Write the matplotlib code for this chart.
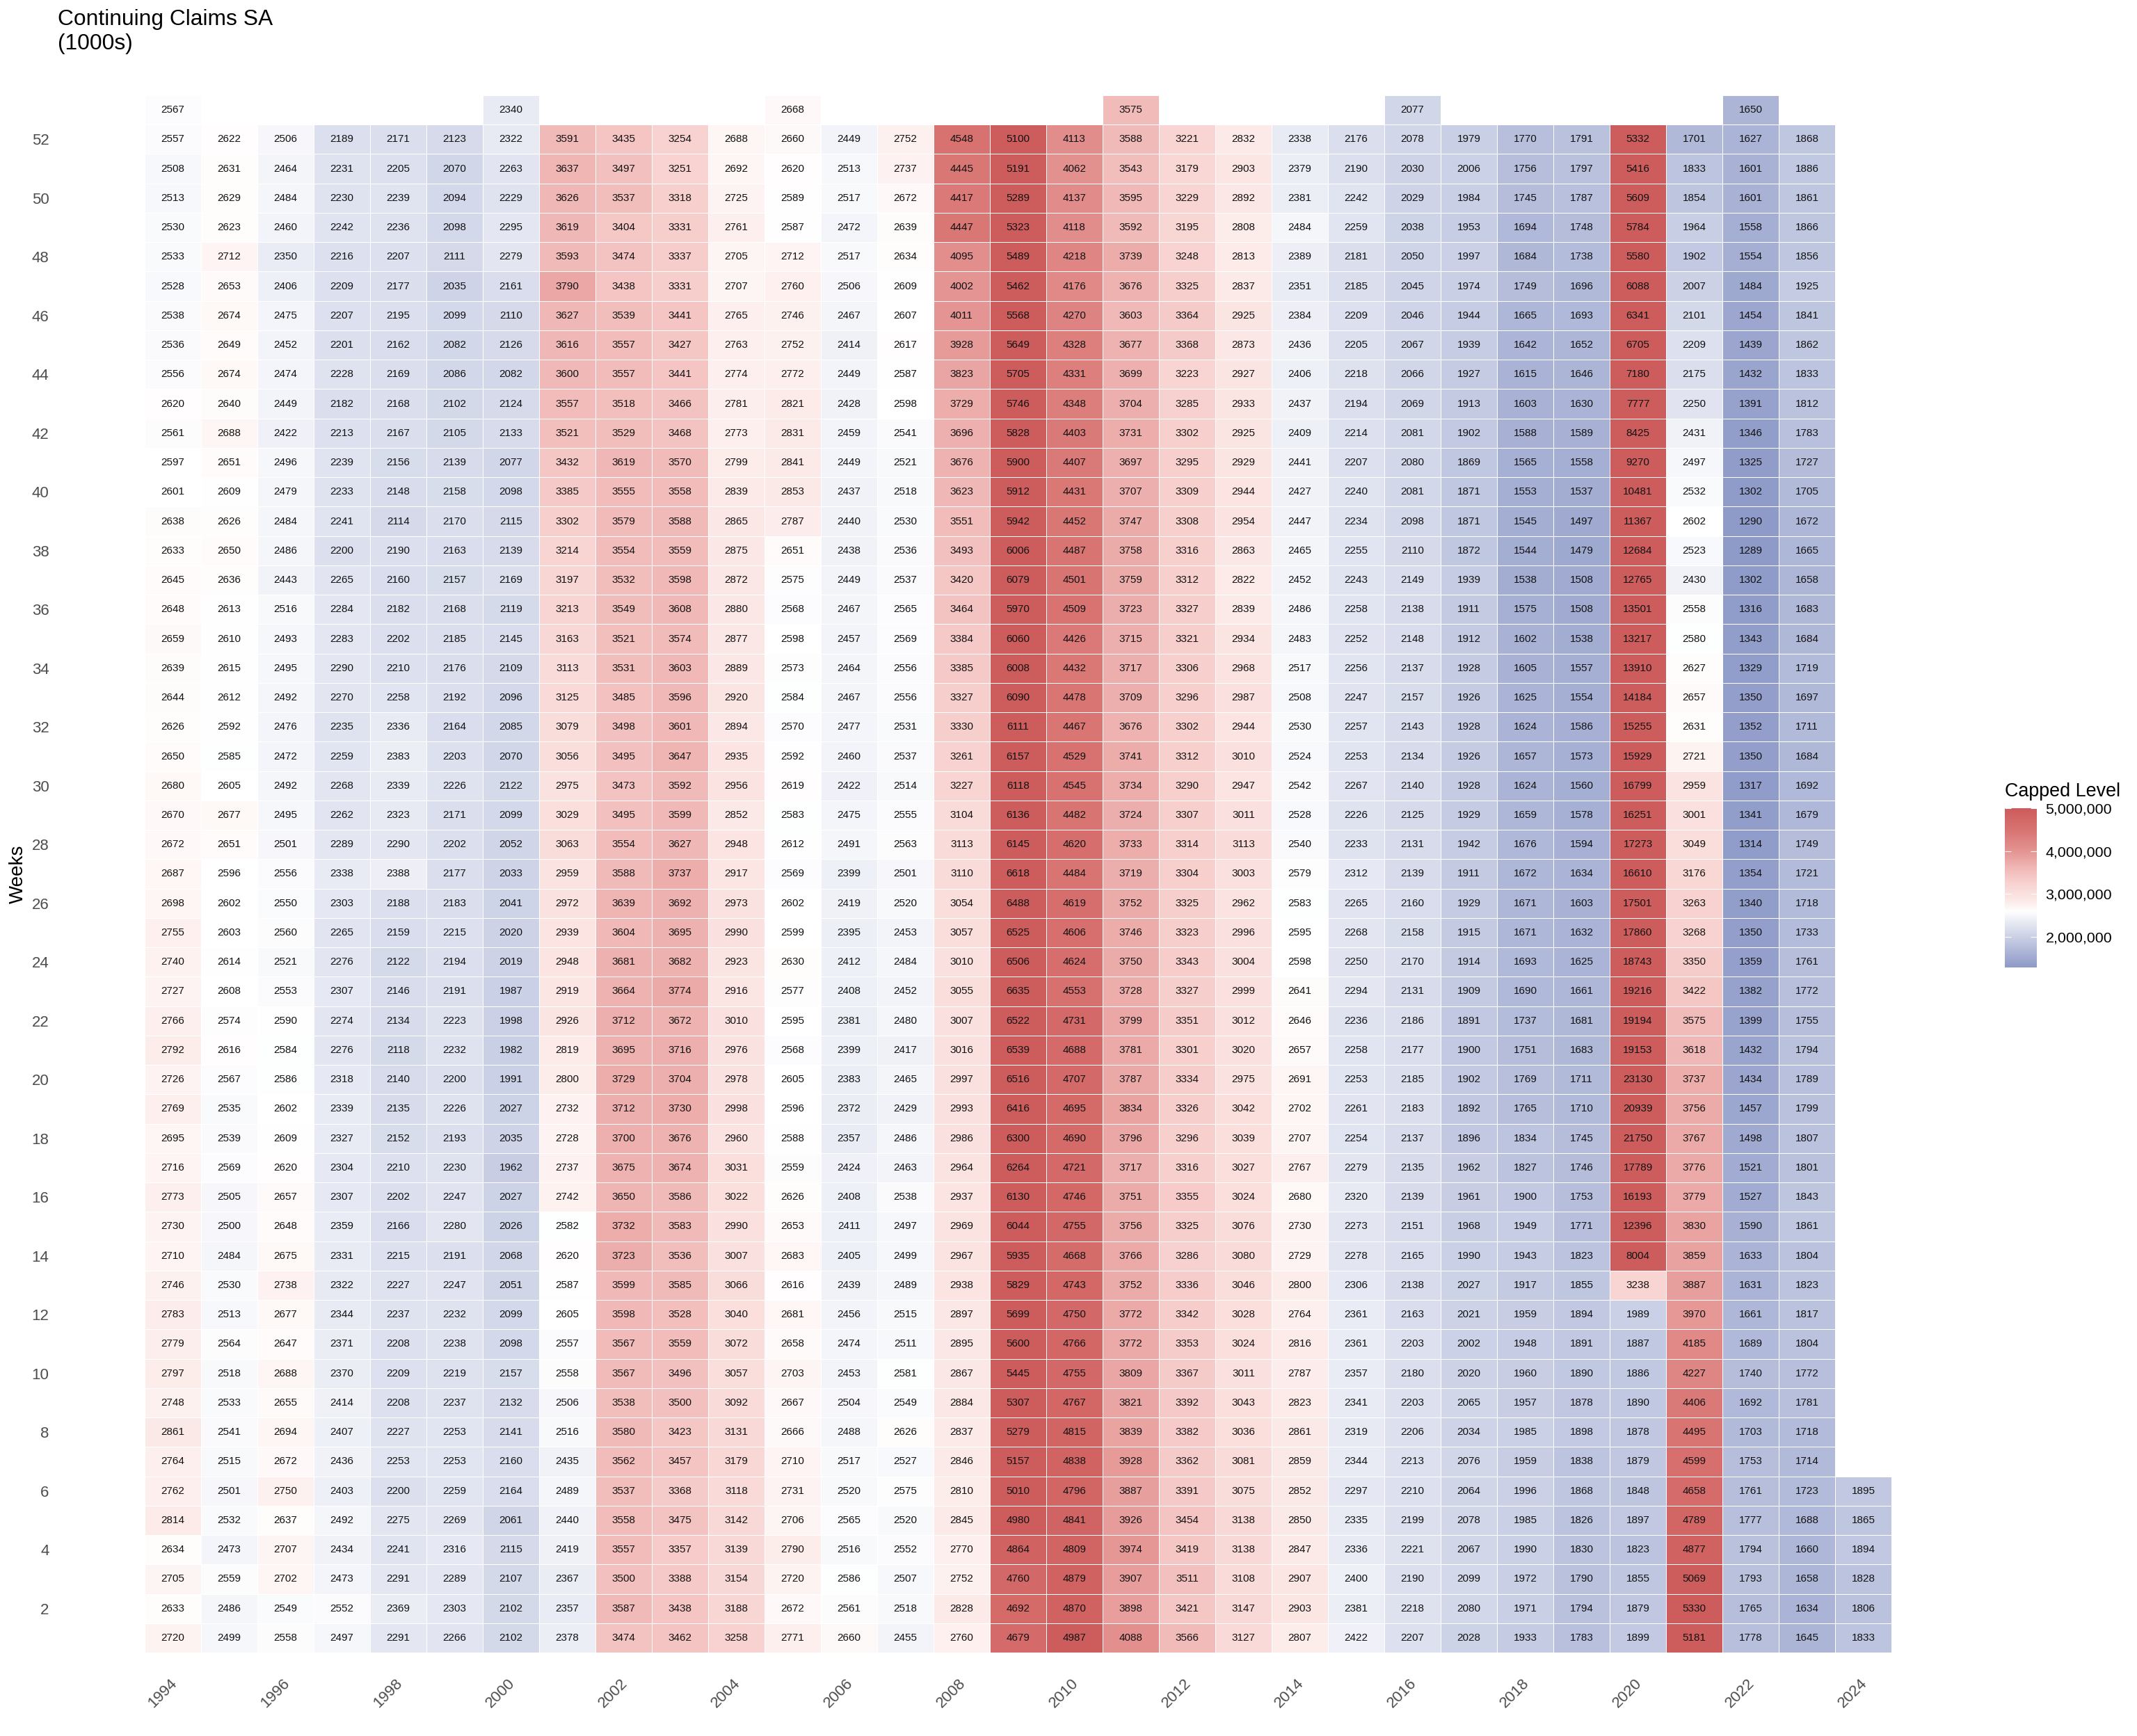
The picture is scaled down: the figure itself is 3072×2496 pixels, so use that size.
import numpy as np
import matplotlib
matplotlib.use('Agg')
import matplotlib.pyplot as plt
from matplotlib.colors import LinearSegmentedColormap, Normalize
from matplotlib.transforms import ScaledTranslation

plt.rcParams['font.family'] = ['Liberation Sans', 'DejaVu Sans']

# each year runs from week 53 at the top down to week 1
y1994 = [2567, 2557, 2508, 2513, 2530, 2533, 2528, 2538, 2536, 2556, 2620, 2561, 2597, 2601, 2638, 2633, 2645, 2648, 2659, 2639, 2644, 2626, 2650, 2680, 2670, 2672, 2687, 2698, 2755, 2740, 2727, 2766, 2792, 2726, 2769, 2695, 2716, 2773, 2730, 2710, 2746, 2783, 2779, 2797, 2748, 2861, 2764, 2762, 2814, 2634, 2705, 2633, 2720]
y1995 = [None, 2622, 2631, 2629, 2623, 2712, 2653, 2674, 2649, 2674, 2640, 2688, 2651, 2609, 2626, 2650, 2636, 2613, 2610, 2615, 2612, 2592, 2585, 2605, 2677, 2651, 2596, 2602, 2603, 2614, 2608, 2574, 2616, 2567, 2535, 2539, 2569, 2505, 2500, 2484, 2530, 2513, 2564, 2518, 2533, 2541, 2515, 2501, 2532, 2473, 2559, 2486, 2499]
y1996 = [None, 2506, 2464, 2484, 2460, 2350, 2406, 2475, 2452, 2474, 2449, 2422, 2496, 2479, 2484, 2486, 2443, 2516, 2493, 2495, 2492, 2476, 2472, 2492, 2495, 2501, 2556, 2550, 2560, 2521, 2553, 2590, 2584, 2586, 2602, 2609, 2620, 2657, 2648, 2675, 2738, 2677, 2647, 2688, 2655, 2694, 2672, 2750, 2637, 2707, 2702, 2549, 2558]
y1997 = [None, 2189, 2231, 2230, 2242, 2216, 2209, 2207, 2201, 2228, 2182, 2213, 2239, 2233, 2241, 2200, 2265, 2284, 2283, 2290, 2270, 2235, 2259, 2268, 2262, 2289, 2338, 2303, 2265, 2276, 2307, 2274, 2276, 2318, 2339, 2327, 2304, 2307, 2359, 2331, 2322, 2344, 2371, 2370, 2414, 2407, 2436, 2403, 2492, 2434, 2473, 2552, 2497]
y1998 = [None, 2171, 2205, 2239, 2236, 2207, 2177, 2195, 2162, 2169, 2168, 2167, 2156, 2148, 2114, 2190, 2160, 2182, 2202, 2210, 2258, 2336, 2383, 2339, 2323, 2290, 2388, 2188, 2159, 2122, 2146, 2134, 2118, 2140, 2135, 2152, 2210, 2202, 2166, 2215, 2227, 2237, 2208, 2209, 2208, 2227, 2253, 2200, 2275, 2241, 2291, 2369, 2291]
y1999 = [None, 2123, 2070, 2094, 2098, 2111, 2035, 2099, 2082, 2086, 2102, 2105, 2139, 2158, 2170, 2163, 2157, 2168, 2185, 2176, 2192, 2164, 2203, 2226, 2171, 2202, 2177, 2183, 2215, 2194, 2191, 2223, 2232, 2200, 2226, 2193, 2230, 2247, 2280, 2191, 2247, 2232, 2238, 2219, 2237, 2253, 2253, 2259, 2269, 2316, 2289, 2303, 2266]
y2000 = [2340, 2322, 2263, 2229, 2295, 2279, 2161, 2110, 2126, 2082, 2124, 2133, 2077, 2098, 2115, 2139, 2169, 2119, 2145, 2109, 2096, 2085, 2070, 2122, 2099, 2052, 2033, 2041, 2020, 2019, 1987, 1998, 1982, 1991, 2027, 2035, 1962, 2027, 2026, 2068, 2051, 2099, 2098, 2157, 2132, 2141, 2160, 2164, 2061, 2115, 2107, 2102, 2102]
y2001 = [None, 3591, 3637, 3626, 3619, 3593, 3790, 3627, 3616, 3600, 3557, 3521, 3432, 3385, 3302, 3214, 3197, 3213, 3163, 3113, 3125, 3079, 3056, 2975, 3029, 3063, 2959, 2972, 2939, 2948, 2919, 2926, 2819, 2800, 2732, 2728, 2737, 2742, 2582, 2620, 2587, 2605, 2557, 2558, 2506, 2516, 2435, 2489, 2440, 2419, 2367, 2357, 2378]
y2002 = [None, 3435, 3497, 3537, 3404, 3474, 3438, 3539, 3557, 3557, 3518, 3529, 3619, 3555, 3579, 3554, 3532, 3549, 3521, 3531, 3485, 3498, 3495, 3473, 3495, 3554, 3588, 3639, 3604, 3681, 3664, 3712, 3695, 3729, 3712, 3700, 3675, 3650, 3732, 3723, 3599, 3598, 3567, 3567, 3538, 3580, 3562, 3537, 3558, 3557, 3500, 3587, 3474]
y2003 = [None, 3254, 3251, 3318, 3331, 3337, 3331, 3441, 3427, 3441, 3466, 3468, 3570, 3558, 3588, 3559, 3598, 3608, 3574, 3603, 3596, 3601, 3647, 3592, 3599, 3627, 3737, 3692, 3695, 3682, 3774, 3672, 3716, 3704, 3730, 3676, 3674, 3586, 3583, 3536, 3585, 3528, 3559, 3496, 3500, 3423, 3457, 3368, 3475, 3357, 3388, 3438, 3462]
y2004 = [None, 2688, 2692, 2725, 2761, 2705, 2707, 2765, 2763, 2774, 2781, 2773, 2799, 2839, 2865, 2875, 2872, 2880, 2877, 2889, 2920, 2894, 2935, 2956, 2852, 2948, 2917, 2973, 2990, 2923, 2916, 3010, 2976, 2978, 2998, 2960, 3031, 3022, 2990, 3007, 3066, 3040, 3072, 3057, 3092, 3131, 3179, 3118, 3142, 3139, 3154, 3188, 3258]
y2005 = [2668, 2660, 2620, 2589, 2587, 2712, 2760, 2746, 2752, 2772, 2821, 2831, 2841, 2853, 2787, 2651, 2575, 2568, 2598, 2573, 2584, 2570, 2592, 2619, 2583, 2612, 2569, 2602, 2599, 2630, 2577, 2595, 2568, 2605, 2596, 2588, 2559, 2626, 2653, 2683, 2616, 2681, 2658, 2703, 2667, 2666, 2710, 2731, 2706, 2790, 2720, 2672, 2771]
y2006 = [None, 2449, 2513, 2517, 2472, 2517, 2506, 2467, 2414, 2449, 2428, 2459, 2449, 2437, 2440, 2438, 2449, 2467, 2457, 2464, 2467, 2477, 2460, 2422, 2475, 2491, 2399, 2419, 2395, 2412, 2408, 2381, 2399, 2383, 2372, 2357, 2424, 2408, 2411, 2405, 2439, 2456, 2474, 2453, 2504, 2488, 2517, 2520, 2565, 2516, 2586, 2561, 2660]
y2007 = [None, 2752, 2737, 2672, 2639, 2634, 2609, 2607, 2617, 2587, 2598, 2541, 2521, 2518, 2530, 2536, 2537, 2565, 2569, 2556, 2556, 2531, 2537, 2514, 2555, 2563, 2501, 2520, 2453, 2484, 2452, 2480, 2417, 2465, 2429, 2486, 2463, 2538, 2497, 2499, 2489, 2515, 2511, 2581, 2549, 2626, 2527, 2575, 2520, 2552, 2507, 2518, 2455]
y2008 = [None, 4548, 4445, 4417, 4447, 4095, 4002, 4011, 3928, 3823, 3729, 3696, 3676, 3623, 3551, 3493, 3420, 3464, 3384, 3385, 3327, 3330, 3261, 3227, 3104, 3113, 3110, 3054, 3057, 3010, 3055, 3007, 3016, 2997, 2993, 2986, 2964, 2937, 2969, 2967, 2938, 2897, 2895, 2867, 2884, 2837, 2846, 2810, 2845, 2770, 2752, 2828, 2760]
y2009 = [None, 5100, 5191, 5289, 5323, 5489, 5462, 5568, 5649, 5705, 5746, 5828, 5900, 5912, 5942, 6006, 6079, 5970, 6060, 6008, 6090, 6111, 6157, 6118, 6136, 6145, 6618, 6488, 6525, 6506, 6635, 6522, 6539, 6516, 6416, 6300, 6264, 6130, 6044, 5935, 5829, 5699, 5600, 5445, 5307, 5279, 5157, 5010, 4980, 4864, 4760, 4692, 4679]
y2010 = [None, 4113, 4062, 4137, 4118, 4218, 4176, 4270, 4328, 4331, 4348, 4403, 4407, 4431, 4452, 4487, 4501, 4509, 4426, 4432, 4478, 4467, 4529, 4545, 4482, 4620, 4484, 4619, 4606, 4624, 4553, 4731, 4688, 4707, 4695, 4690, 4721, 4746, 4755, 4668, 4743, 4750, 4766, 4755, 4767, 4815, 4838, 4796, 4841, 4809, 4879, 4870, 4987]
y2011 = [3575, 3588, 3543, 3595, 3592, 3739, 3676, 3603, 3677, 3699, 3704, 3731, 3697, 3707, 3747, 3758, 3759, 3723, 3715, 3717, 3709, 3676, 3741, 3734, 3724, 3733, 3719, 3752, 3746, 3750, 3728, 3799, 3781, 3787, 3834, 3796, 3717, 3751, 3756, 3766, 3752, 3772, 3772, 3809, 3821, 3839, 3928, 3887, 3926, 3974, 3907, 3898, 4088]
y2012 = [None, 3221, 3179, 3229, 3195, 3248, 3325, 3364, 3368, 3223, 3285, 3302, 3295, 3309, 3308, 3316, 3312, 3327, 3321, 3306, 3296, 3302, 3312, 3290, 3307, 3314, 3304, 3325, 3323, 3343, 3327, 3351, 3301, 3334, 3326, 3296, 3316, 3355, 3325, 3286, 3336, 3342, 3353, 3367, 3392, 3382, 3362, 3391, 3454, 3419, 3511, 3421, 3566]
y2013 = [None, 2832, 2903, 2892, 2808, 2813, 2837, 2925, 2873, 2927, 2933, 2925, 2929, 2944, 2954, 2863, 2822, 2839, 2934, 2968, 2987, 2944, 3010, 2947, 3011, 3113, 3003, 2962, 2996, 3004, 2999, 3012, 3020, 2975, 3042, 3039, 3027, 3024, 3076, 3080, 3046, 3028, 3024, 3011, 3043, 3036, 3081, 3075, 3138, 3138, 3108, 3147, 3127]
y2014 = [None, 2338, 2379, 2381, 2484, 2389, 2351, 2384, 2436, 2406, 2437, 2409, 2441, 2427, 2447, 2465, 2452, 2486, 2483, 2517, 2508, 2530, 2524, 2542, 2528, 2540, 2579, 2583, 2595, 2598, 2641, 2646, 2657, 2691, 2702, 2707, 2767, 2680, 2730, 2729, 2800, 2764, 2816, 2787, 2823, 2861, 2859, 2852, 2850, 2847, 2907, 2903, 2807]
y2015 = [None, 2176, 2190, 2242, 2259, 2181, 2185, 2209, 2205, 2218, 2194, 2214, 2207, 2240, 2234, 2255, 2243, 2258, 2252, 2256, 2247, 2257, 2253, 2267, 2226, 2233, 2312, 2265, 2268, 2250, 2294, 2236, 2258, 2253, 2261, 2254, 2279, 2320, 2273, 2278, 2306, 2361, 2361, 2357, 2341, 2319, 2344, 2297, 2335, 2336, 2400, 2381, 2422]
y2016 = [2077, 2078, 2030, 2029, 2038, 2050, 2045, 2046, 2067, 2066, 2069, 2081, 2080, 2081, 2098, 2110, 2149, 2138, 2148, 2137, 2157, 2143, 2134, 2140, 2125, 2131, 2139, 2160, 2158, 2170, 2131, 2186, 2177, 2185, 2183, 2137, 2135, 2139, 2151, 2165, 2138, 2163, 2203, 2180, 2203, 2206, 2213, 2210, 2199, 2221, 2190, 2218, 2207]
y2017 = [None, 1979, 2006, 1984, 1953, 1997, 1974, 1944, 1939, 1927, 1913, 1902, 1869, 1871, 1871, 1872, 1939, 1911, 1912, 1928, 1926, 1928, 1926, 1928, 1929, 1942, 1911, 1929, 1915, 1914, 1909, 1891, 1900, 1902, 1892, 1896, 1962, 1961, 1968, 1990, 2027, 2021, 2002, 2020, 2065, 2034, 2076, 2064, 2078, 2067, 2099, 2080, 2028]
y2018 = [None, 1770, 1756, 1745, 1694, 1684, 1749, 1665, 1642, 1615, 1603, 1588, 1565, 1553, 1545, 1544, 1538, 1575, 1602, 1605, 1625, 1624, 1657, 1624, 1659, 1676, 1672, 1671, 1671, 1693, 1690, 1737, 1751, 1769, 1765, 1834, 1827, 1900, 1949, 1943, 1917, 1959, 1948, 1960, 1957, 1985, 1959, 1996, 1985, 1990, 1972, 1971, 1933]
y2019 = [None, 1791, 1797, 1787, 1748, 1738, 1696, 1693, 1652, 1646, 1630, 1589, 1558, 1537, 1497, 1479, 1508, 1508, 1538, 1557, 1554, 1586, 1573, 1560, 1578, 1594, 1634, 1603, 1632, 1625, 1661, 1681, 1683, 1711, 1710, 1745, 1746, 1753, 1771, 1823, 1855, 1894, 1891, 1890, 1878, 1898, 1838, 1868, 1826, 1830, 1790, 1794, 1783]
y2020 = [None, 5332, 5416, 5609, 5784, 5580, 6088, 6341, 6705, 7180, 7777, 8425, 9270, 10481, 11367, 12684, 12765, 13501, 13217, 13910, 14184, 15255, 15929, 16799, 16251, 17273, 16610, 17501, 17860, 18743, 19216, 19194, 19153, 23130, 20939, 21750, 17789, 16193, 12396, 8004, 3238, 1989, 1887, 1886, 1890, 1878, 1879, 1848, 1897, 1823, 1855, 1879, 1899]
y2021 = [None, 1701, 1833, 1854, 1964, 1902, 2007, 2101, 2209, 2175, 2250, 2431, 2497, 2532, 2602, 2523, 2430, 2558, 2580, 2627, 2657, 2631, 2721, 2959, 3001, 3049, 3176, 3263, 3268, 3350, 3422, 3575, 3618, 3737, 3756, 3767, 3776, 3779, 3830, 3859, 3887, 3970, 4185, 4227, 4406, 4495, 4599, 4658, 4789, 4877, 5069, 5330, 5181]
y2022 = [1650, 1627, 1601, 1601, 1558, 1554, 1484, 1454, 1439, 1432, 1391, 1346, 1325, 1302, 1290, 1289, 1302, 1316, 1343, 1329, 1350, 1352, 1350, 1317, 1341, 1314, 1354, 1340, 1350, 1359, 1382, 1399, 1432, 1434, 1457, 1498, 1521, 1527, 1590, 1633, 1631, 1661, 1689, 1740, 1692, 1703, 1753, 1761, 1777, 1794, 1793, 1765, 1778]
y2023 = [None, 1868, 1886, 1861, 1866, 1856, 1925, 1841, 1862, 1833, 1812, 1783, 1727, 1705, 1672, 1665, 1658, 1683, 1684, 1719, 1697, 1711, 1684, 1692, 1679, 1749, 1721, 1718, 1733, 1761, 1772, 1755, 1794, 1789, 1799, 1807, 1801, 1843, 1861, 1804, 1823, 1817, 1804, 1772, 1781, 1718, 1714, 1723, 1688, 1660, 1658, 1634, 1645]
y2024 = [None] * 47 + [1895, 1865, 1894, 1828, 1806, 1833]

columns = [y1994, y1995, y1996, y1997, y1998, y1999, y2000, y2001, y2002, y2003, y2004,
           y2005, y2006, y2007, y2008, y2009, y2010, y2011, y2012, y2013, y2014, y2015,
           y2016, y2017, y2018, y2019, y2020, y2021, y2022, y2023, y2024]
years = np.arange(1994, 2025)
weeks = np.arange(53, 0, -1)
year_ticks = np.arange(1994, 2025, 2)
week_ticks = np.arange(2, 53, 2)
legend_ticks = [2000000, 3000000, 4000000, 5000000]

CAP = 5000000
FLOOR = 1289000
TEXT_GREY = '#4D4D4D'
W, H = 3072, 2496

stops = [(1289000, '#8E9AC8'), (2600000, '#FFFFFF'), (2800000, '#FCECEA'), (3300000, '#F7D0CE'),
         (3600000, '#F0B9B7'), (4000000, '#E49593'), (4500000, '#D87472'), (5000000, '#CD5C5C')]


def px_box(left, top, right, bottom):
    return [left / W, 1 - bottom / H, (right - left) / W, (bottom - top) / H]


values = np.array(columns, dtype=float).T
capped = np.ma.masked_invalid(np.minimum(values * 1000, CAP))

cmap = LinearSegmentedColormap.from_list(
    'claims', [((v - FLOOR) / (CAP - FLOOR), c) for v, c in stops], N=512)
norm = Normalize(vmin=FLOOR, vmax=CAP)

fig = plt.figure(figsize=(W / 200, H / 200), dpi=200, facecolor='white')
ax = fig.add_axes(px_box(208, 137, 2719, 2376))

x_edges = np.arange(1993.5, 2025)
y_edges = np.arange(53.5, 0, -1)
ax.pcolormesh(x_edges, y_edges, capped, cmap=cmap, norm=norm,
              edgecolors='white', linewidth=0.22)

for i, week in enumerate(weeks):
    for j, year in enumerate(years):
        if not np.isnan(values[i, j]):
            ax.text(year, week, f'{values[i, j]:.0f}', ha='center', va='center',
                    fontsize=5.5, color='#111111')

ax.set_xlim(1993.5, 2024.5)
ax.set_ylim(0.5, 53.5)
ax.set_yticks(week_ticks)
ax.set_xticks(year_ticks)
ax.set_xticklabels(year_ticks, rotation=45, ha='right', va='top', rotation_mode='anchor')
ax.tick_params(axis='y', length=0, pad=49.5, labelsize=8, labelcolor=TEXT_GREY)
ax.tick_params(axis='x', length=0, pad=12, labelsize=8, labelcolor=TEXT_GREY)
ax.spines[['top', 'right', 'left', 'bottom']].set_visible(False)

# year labels sit a little left of their tiles
shift = ScaledTranslation(-5 / 200, 0, fig.dpi_scale_trans)
for label in ax.get_xticklabels():
    label.set_transform(label.get_transform() + shift)

fig.text(83 / W, 1 - 13 / H, 'Continuing Claims SA\n(1000s)', fontsize=11.45, ha='left', va='top',
         color='black')
fig.text(26 / W, 1 - 1257 / H, 'Weeks', fontsize=10, rotation=90, ha='center', va='center',
         color='black')

# legend, drawn by hand so that the ticks sit evenly spaced
cax = fig.add_axes(px_box(2882, 1162, 2928, 1391))
ramp = np.linspace(FLOOR, CAP, 256).reshape(-1, 1)
cax.imshow(ramp, cmap=cmap, norm=norm, origin='lower', aspect='auto',
           extent=[0, 1, FLOOR, CAP])
cax.set_xticks([])
cax.yaxis.tick_right()
cax.set_yticks(legend_ticks)
cax.set_yticklabels([f'{t:,}' for t in legend_ticks])
cax.tick_params(axis='y', length=0, pad=4.5, labelsize=7.7, labelcolor='black')
cax.spines[['top', 'right', 'left', 'bottom']].set_visible(False)
cax.hlines(legend_ticks, 0, 0.2, color='white', linewidth=0.4)
cax.hlines(legend_ticks, 0.8, 1, color='white', linewidth=0.4)
fig.text(2882 / W, 1 - 1138 / H, 'Capped Level', fontsize=9.7, ha='left', va='center',
         color='black')

fig.savefig('out.png', dpi=200, facecolor='white')
